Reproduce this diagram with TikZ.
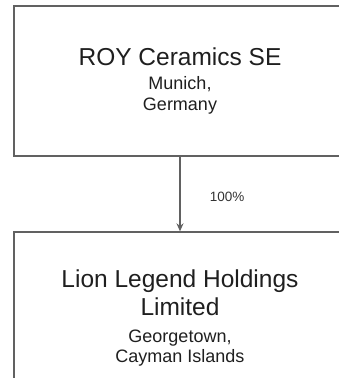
\documentclass[tikz,border=0pt]{standalone}
\usepackage{fontspec}
\setmainfont{Liberation Sans}
\usetikzlibrary{arrows.meta}

\begin{document}
\begin{tikzpicture}[x=1pt,y=1pt,
    entity/.style={draw=black!62,line width=1.3pt,rectangle,minimum width=332pt,
      align=center,text=black!88,inner sep=0pt,
      font=\fontsize{18}{20.5}\selectfont},
    owns/.style={draw=black!62,line width=1.2pt,-{Stealth[length=8pt,width=7pt]}}]
  \path[use as bounding box,clip] (0,0) rectangle (339,378); % page size
  \node[entity,minimum height=150pt] (roy) at (180,297)
    {{\fontsize{24.5}{20.5}\selectfont ROY Ceramics SE}\\[3.5pt]Munich,\\Germany};
  \node[entity,minimum height=172pt] (lion) at (180,60)
    {{\fontsize{24.5}{20.5}\selectfont Lion Legend Holdings}\\[3.9pt]
     {\fontsize{24.5}{20.5}\selectfont Limited}\\[6.5pt]Georgetown,\\Cayman Islands};
  \draw[owns] (roy.south) -- (lion.north)
    node[midway,right=26pt,yshift=-3pt,text=black!80,font=\fontsize{13.5}{15}\selectfont] (pct) {100\%};
\end{tikzpicture}
\end{document}
